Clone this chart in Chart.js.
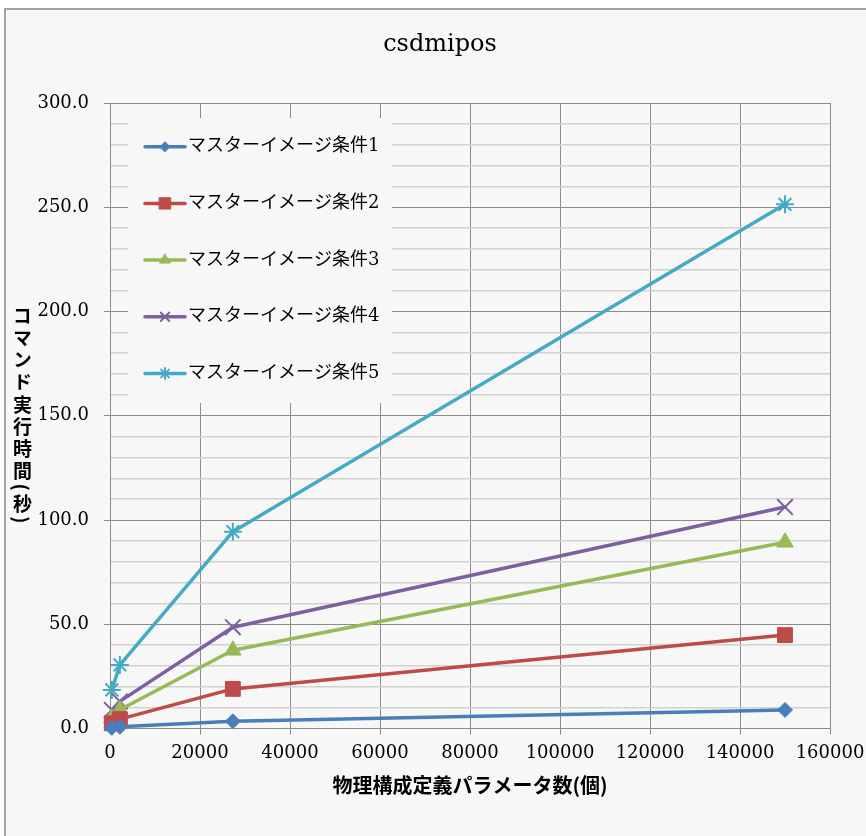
<!DOCTYPE html>
<html lang="ja">
<head>
<meta charset="utf-8">
<title>csdmipos</title>
<script src="https://cdn.jsdelivr.net/npm/chart.js@4/dist/chart.umd.min.js"></script>
<style>
  html, body { margin: 0; padding: 0; background: #ffffff; width: 866px; height: 836px; overflow: hidden; }
  #frame {
    position: absolute; left: 4px; top: 8px; width: 900px; height: 900px;
    background: #f7f7f7; border-left: 2px solid #a3a3a3; border-top: 2px solid #a3a3a3;
  }
  #chart { position: absolute; left: 0; top: 0; }
  #ytitle {
    position: absolute; left: 11px; top: 306px;
    writing-mode: vertical-rl;
    font: 700 19px "Noto Sans CJK JP", sans-serif;
    letter-spacing: 3.2px; line-height: 22px; color: #000;
  }
</style>
</head>
<body>
<div id="frame"></div>
<canvas id="chart" width="866" height="836"></canvas>
<div id="ytitle">コマンド実行時間(秒)</div>
<script>
// ---- data ----
const chartTitle = 'csdmipos';
const xAxisTitle = '物理構成定義パラメータ数(個)';
const seriesNames = [
  'マスターイメージ条件1',
  'マスターイメージ条件2',
  'マスターイメージ条件3',
  'マスターイメージ条件4',
  'マスターイメージ条件5'
];
const paramCounts = [400, 2200, 27300, 150000];
const cond1 = [0.3, 0.8, 3.5, 8.9];
const cond2 = [2.5, 4.5, 19.0, 44.8];
const cond3 = [4.9, 9.0, 37.5, 89.3];
const cond4 = [8.9, 13.0, 48.6, 106.2];
const cond5 = [18.5, 30.5, 94.4, 251.4];
const xTickValues = [0, 20000, 40000, 60000, 80000, 100000, 120000, 140000, 160000];
const yTickValues = [0, 50, 100, 150, 200, 250, 300];

// ---- styles ----
const seriesValues = [cond1, cond2, cond3, cond4, cond5];
const palette = ['#4a7ebb', '#be4b48', '#98b954', '#7d60a0', '#46aac5'];
const markerStyle = ['rectRot', 'rect', 'triangle', 'crossRot', 'star'];
const markerRadius = [7.5, 10.5, 9.5, 11, 9];
const legendMarkerRadius = [5, 8, 6, 6, 5.5];
const markerBorder = [1, 1, 1, 2, 2];
const bg = '#f7f7f7';
const majorGrid = '#8c8c8c';
const minorGrid = '#d2d2d2';
const serif = '"DejaVu Serif", "Noto Sans CJK JP", serif';

const datasets = seriesValues.map((vals, i) => ({
  label: seriesNames[i],
  data: paramCounts.map((x, j) => ({ x: x, y: vals[j] })),
  borderColor: palette[i],
  backgroundColor: palette[i],
  borderWidth: 3.5,
  borderJoinStyle: 'round',
  borderCapStyle: 'round',
  tension: 0,
  pointStyle: markerStyle[i],
  pointRadius: markerRadius[i],
  pointBackgroundColor: palette[i],
  pointBorderColor: palette[i],
  pointBorderWidth: markerBorder[i],
  clip: false
}));

// Legend box drawn inside the plot, top-left, over the gridlines
const insideLegend = {
  id: 'insideLegend',
  beforeDatasetsDraw(chart) {
    const { ctx, chartArea: a } = chart;
    const bx = a.left + 18, by = a.top + 15, bw = 264, bh = 285;
    ctx.save();
    ctx.fillStyle = bg;
    ctx.fillRect(bx, by, bw, bh);
    chart.data.datasets.forEach((ds, i) => {
      const cy = by + 28.7 + i * 56.7;
      const x0 = bx + 17, x1 = x0 + 40;
      ctx.strokeStyle = ds.borderColor;
      ctx.lineWidth = ds.borderWidth;
      ctx.lineCap = 'round';
      ctx.beginPath();
      ctx.moveTo(x0, cy);
      ctx.lineTo(x1, cy);
      ctx.stroke();
      ctx.fillStyle = ds.pointBackgroundColor;
      ctx.strokeStyle = ds.pointBorderColor;
      ctx.lineWidth = ds.pointBorderWidth;
      Chart.helpers.drawPoint(ctx, {
        pointStyle: ds.pointStyle,
        radius: legendMarkerRadius[i],
        rotation: 0,
        borderWidth: ds.pointBorderWidth
      }, (x0 + x1) / 2, cy);
      ctx.fillStyle = '#000';
      ctx.font = '18px ' + serif;
      ctx.textAlign = 'left';
      ctx.textBaseline = 'middle';
      ctx.fillText(ds.label, x1 + 3, cy);
    });
    ctx.restore();
  }
};

new Chart(document.getElementById('chart'), {
  type: 'line',
  data: { datasets: datasets },
  options: {
    responsive: false,
    animation: false,
    events: [],
    layout: { padding: { left: 14, right: 0, top: 0, bottom: 0 } },
    plugins: {
      legend: { display: false },
      tooltip: { enabled: false },
      title: {
        display: true,
        text: chartTitle,
        color: '#000',
        font: { family: serif, size: 24, weight: 'normal', lineHeight: 1.2 },
        padding: { top: 30.6, bottom: 43.6 }
      }
    },
    scales: {
      x: {
        type: 'linear',
        min: 0,
        max: 160000,
        afterBuildTicks: (s) => { s.ticks = xTickValues.map(v => ({ value: v })); },
        afterFit: (s) => { s.height = 107.5; s.paddingRight = 36; },
        ticks: {
          color: '#000',
          font: { family: serif, size: 18 },
          padding: 8,
          maxRotation: 0,
          autoSkip: false,
          callback: (v) => String(v)
        },
        grid: { color: majorGrid, lineWidth: 1, tickLength: 6, tickColor: majorGrid },
        border: { color: majorGrid, width: 1 },
        title: {
          display: true,
          text: xAxisTitle,
          color: '#000',
          font: { family: '"Noto Sans CJK JP", sans-serif', size: 20, weight: 'bold', lineHeight: 1.2 },
          padding: { top: 0, bottom: 39 }
        }
      },
      y: {
        type: 'linear',
        min: 0,
        max: 300,
        afterFit: (s) => { s.width = 96; },
        ticks: {
          stepSize: 10,
          autoSkip: false,
          color: '#000',
          font: { family: serif, size: 18 },
          padding: 15,
          callback: (v) => yTickValues.includes(v) ? v.toFixed(1) : ''
        },
        grid: {
          color: (c) => (c.tick && c.tick.value % 50 === 0) ? majorGrid : minorGrid,
          lineWidth: (c) => (c.tick && c.tick.value % 50 === 0) ? 1 : 1.5,
          tickLength: 6,
          tickColor: (c) => (c.tick && c.tick.value % 50 === 0) ? majorGrid : 'rgba(0,0,0,0)'
        },
        border: { color: majorGrid, width: 1 }
      }
    }
  },
  plugins: [insideLegend]
});
</script>
</body>
</html>
